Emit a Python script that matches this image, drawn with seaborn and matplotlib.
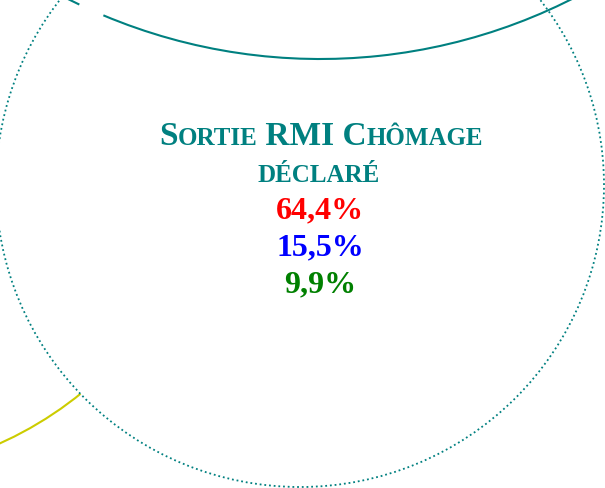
import numpy as np
import matplotlib
matplotlib.use("Agg")
import matplotlib.pyplot as plt
import seaborn as sns
from matplotlib.patches import Ellipse, Arc
from matplotlib.offsetbox import TextArea, HPacker, AnnotationBbox

# title pieces (small caps emulated: big / small letters)
title1 = ["S", "ORTIE", " RMI C", "HÔMAGE"]
title1_big = [True, False, True, False]
title2 = "DÉCLARÉ"

# values shown in the middle
values = ["64,4%", "15,5%", "9,9%"]
value_colors = ["#ff0000", "#0000ff", "#008000"]

teal = "#008080"

sns.set_theme(style="white")
plt.rcParams["font.family"] = ["Liberation Serif", "DejaVu Serif"]

fig = plt.figure(figsize=(6.05, 4.88), dpi=100)
ax = fig.add_axes([0, 0, 1, 1])
ax.set_xlim(0, 605)
ax.set_ylim(488, 0)
ax.axis("off")

# yellow circle, mostly hidden behind the big one
ax.add_patch(Ellipse((-152, 106), 740, 740, fill=False, ec="#cccc00", lw=1.5, zorder=1))

# big dotted circle with white fill
ax.add_patch(Ellipse((300, 185), 608, 604, fc="white", ec=teal, lw=1.3,
                     ls=(0, (1, 1.6)), zorder=2))

# solid teal arc at the top (small break near the left end)
ax.add_patch(Arc((320, -500), 1118, 1118, theta1=55, theta2=112.8, ec=teal, lw=1.5, zorder=3))
ax.add_patch(Arc((320, -500), 1118, 1118, theta1=115.5, theta2=125, ec=teal, lw=1.5, zorder=3))

# first title line
parts = []
for s, big in zip(title1, title1_big):
    parts.append(TextArea(s, textprops=dict(color=teal, fontsize=24 if big else 18,
                                            fontweight="bold", family="Liberation Serif")))
box = HPacker(children=parts, align="baseline", pad=0, sep=0)
ab = AnnotationBbox(box, (321, 152), xycoords="data", frameon=False,
                    box_alignment=(0.5, 0), pad=0, zorder=4)
ax.add_artist(ab)

ax.text(319, 182, title2, color=teal, fontsize=18, fontweight="bold",
        ha="center", va="baseline", zorder=4)

ys = [218, 255, 292]
for v, c, y in zip(values, value_colors, ys):
    ax.text(320, y, v, color=c, fontsize=23, fontweight="bold",
            ha="center", va="baseline", zorder=4)

fig.savefig("out.png", dpi=100)
